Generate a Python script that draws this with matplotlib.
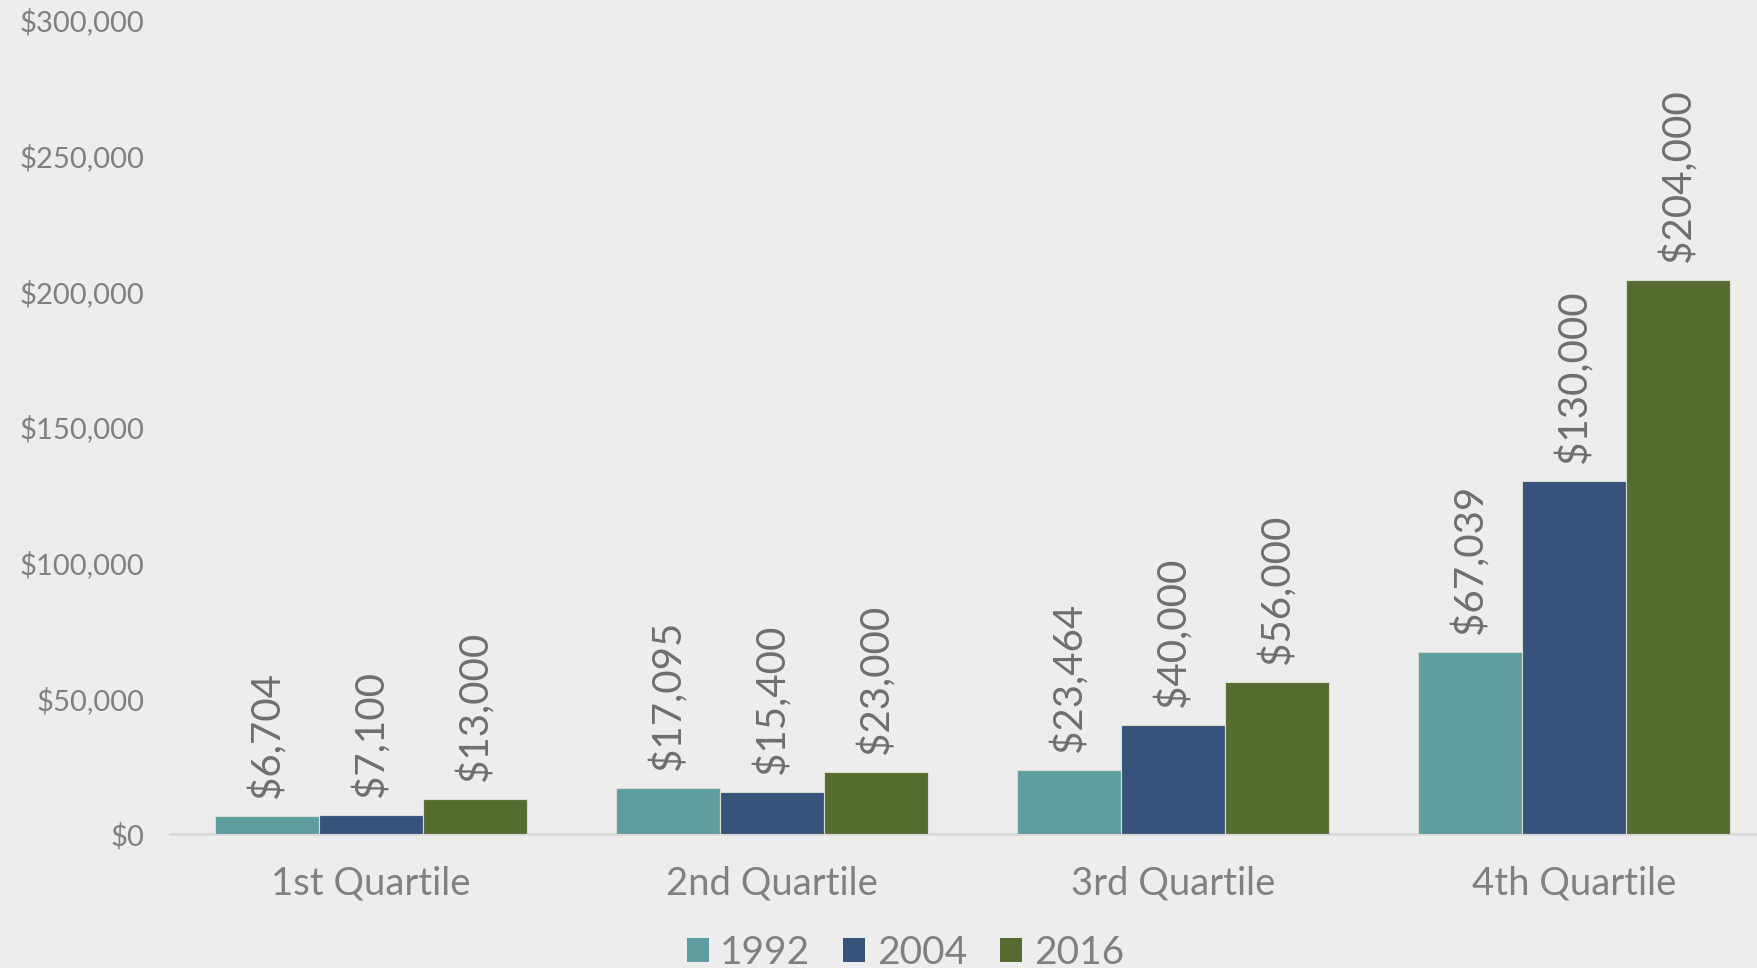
import matplotlib
matplotlib.use('Agg')
import matplotlib.pyplot as plt
import numpy as np
from matplotlib.patches import Patch

# Average values by quartile, three survey years
categories = ['1st Quartile', '2nd Quartile', '3rd Quartile', '4th Quartile']
years = ['1992', '2004', '2016']
values_1992 = [6704, 17095, 23464, 67039]
values_2004 = [7100, 15400, 40000, 130000]
values_2016 = [13000, 23000, 56000, 204000]
y_ticks = [0, 50000, 100000, 150000, 200000, 250000, 300000]

colors = ['#5F9EA0', '#37537C', '#566B30']
bg = '#EDEDED'
tick_color = '#808080'
label_color = '#6F6F6F'

plt.rcParams['font.family'] = ['Lato', 'DejaVu Sans']

fig = plt.figure(figsize=(17.58, 9.68), dpi=100)
fig.patch.set_facecolor(bg)
W, H = 1758, 968
# plot area in pixels: left 170, right 1775 (runs past the right edge), bottom 834, top 20
ax = fig.add_axes([170.5 / W, (H - 834) / H, 1604 / W, (834 - 20) / H])
ax.set_facecolor(bg)

x = np.arange(len(categories))
width = 0.26
series = [values_1992, values_2004, values_2016]
for i, (vals, c) in enumerate(zip(series, colors)):
    bars = ax.bar(x + (i - 1) * width, vals, width, color=c, edgecolor='#D8DDD0',
                  linewidth=0.8, label=years[i], zorder=3)
    for rect, v in zip(bars, vals):
        ax.annotate(f'${v:,.0f}', xy=(rect.get_x() + rect.get_width() / 2, v),
                    xytext=(0, 13), textcoords='offset points', rotation=90,
                    ha='center', va='bottom', fontsize=29, color=label_color)

ax.set_xlim(-0.5, 3.5)
ax.set_ylim(0, 300000)
ax.set_yticks(y_ticks)
ax.set_yticklabels([f'${t:,.0f}' for t in y_ticks], fontsize=21, color=tick_color)
ax.set_xticks(x)
ax.set_xticklabels(categories, fontsize=27.5, color=tick_color)
ax.tick_params(axis='y', length=0, pad=19)
ax.tick_params(axis='x', length=0, pad=23)

for s in ['top', 'right', 'left']:
    ax.spines[s].set_visible(False)
ax.spines['bottom'].set_color('#D9D9D9')
ax.spines['bottom'].set_linewidth(2)
ax.spines['bottom'].set_zorder(2)

handles = [Patch(facecolor=c, edgecolor='none') for c in colors]
fig.legend(handles, years, loc='center', bbox_to_anchor=(0.515, 0.016), ncol=3,
           frameon=False, fontsize=28, labelcolor=tick_color,
           handlelength=0.56, handleheight=0.56, handletextpad=0.3,
           columnspacing=0.85, borderaxespad=0, borderpad=0)

fig.savefig('out.png', facecolor=fig.get_facecolor(), edgecolor='none')
